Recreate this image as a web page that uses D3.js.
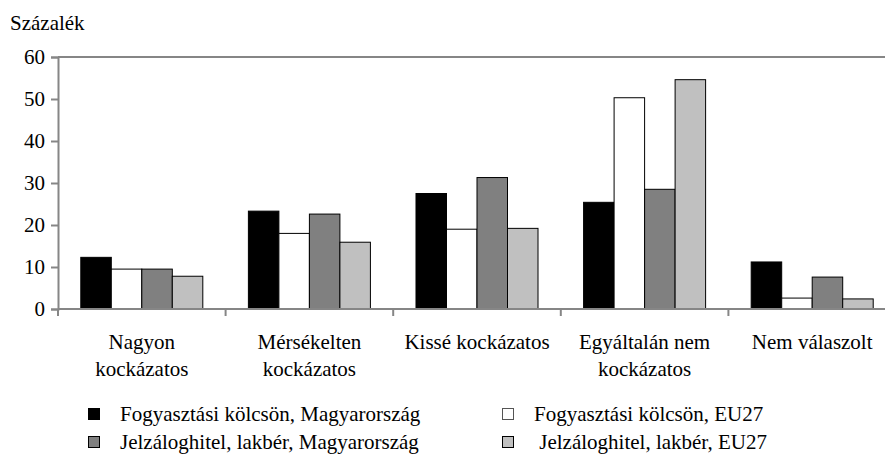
<!DOCTYPE html>
<html>
<head>
<meta charset="utf-8">
<script src="https://cdn.jsdelivr.net/npm/d3@7"></script>
</head>
<body style="margin:0">
<script>
// categories and series
const categories = ["Nagyon kockázatos", "Mérsékelten kockázatos", "Kissé kockázatos", "Egyáltalán nem kockázatos", "Nem válaszolt"];
const categoryLines = [["Nagyon", "kockázatos"], ["Mérsékelten", "kockázatos"], ["Kissé kockázatos"], ["Egyáltalán nem", "kockázatos"], ["Nem válaszolt"]];
const seriesNames = ["Fogyasztási kölcsön, Magyarország", "Fogyasztási kölcsön, EU27", "Jelzáloghitel, lakbér, Magyarország", " Jelzáloghitel, lakbér, EU27"];
const huConsumer = [12.3, 23.3, 27.5, 25.4, 11.2];
const euConsumer = [9.5, 18.0, 19.0, 50.3, 2.6];
const huMortgage = [9.5, 22.6, 31.3, 28.5, 7.6];
const euMortgage = [7.8, 15.9, 19.2, 54.6, 2.4];
const yTicks = [0, 10, 20, 30, 40, 50, 60];
const colors = ["#000000", "#ffffff", "#808080", "#c0c0c0"];

const W = 885, H = 456;
const m = {top: 57, left: 58, bottom: 309, right: 896};
const series = [huConsumer, euConsumer, huMortgage, euMortgage];
const serif = "'Liberation Serif'";

const svg = d3.select('body').append('svg')
  .attr('width', W)
  .attr('height', H)
  .style('display', 'block');

const x = d3.scaleBand()
  .domain(categories)
  .range([m.left, m.right])
  .paddingInner(0.272)
  .paddingOuter(0.136);

const xs = d3.scaleBand()
  .domain(d3.range(series.length))
  .range([0, x.bandwidth()]);

const y = d3.scaleLinear()
  .domain([0, 60])
  .range([m.bottom, m.top]);

const axisColor = '#868686';

// top border of plot area
svg.append('line')
  .attr('x1', m.left).attr('x2', m.right)
  .attr('y1', y(60)).attr('y2', y(60))
  .attr('stroke', axisColor).attr('stroke-width', 2);

// bars
series.forEach((vals, s) => {
  svg.append('g').selectAll('rect')
    .data(vals)
    .enter().append('rect')
    .attr('x', (d, i) => x(categories[i]) + xs(s))
    .attr('y', d => y(d))
    .attr('width', xs.bandwidth())
    .attr('height', d => y(0) - y(d))
    .attr('fill', colors[s])
    .attr('stroke', '#000')
    .attr('stroke-width', 1);
});

// y axis
const yAxis = svg.append('g')
  .attr('transform', `translate(${m.left},0)`)
  .call(d3.axisLeft(y).tickValues(yTicks).tickSize(7).tickPadding(6));
yAxis.select('.domain').attr('stroke', axisColor).attr('stroke-width', 2);
yAxis.selectAll('.tick line').attr('stroke', axisColor).attr('stroke-width', 2);
yAxis.selectAll('.tick text')
  .attr('fill', '#000')
  .style('font-family', serif)
  .style('font-size', '21px');

// x axis: boundaries between categories
const step = x.step();
const bounds = d3.range(categories.length + 1).map(i => m.left + i * step);
svg.append('line')
  .attr('x1', m.left).attr('x2', m.right)
  .attr('y1', y(0)).attr('y2', y(0))
  .attr('stroke', axisColor).attr('stroke-width', 2);
svg.append('g').selectAll('line')
  .data(bounds)
  .enter().append('line')
  .attr('x1', d => d).attr('x2', d => d)
  .attr('y1', y(0)).attr('y2', y(0) + 7)
  .attr('stroke', axisColor).attr('stroke-width', 2);

// category labels, one text per line
categories.forEach((c, i) => {
  svg.append('g').selectAll('text')
    .data(categoryLines[i])
    .enter().append('text')
    .attr('text-anchor', 'middle')
    .attr('x', x(c) + x.bandwidth() / 2)
    .attr('y', (t, j) => 349 + j * 27)
    .style('font-family', serif)
    .style('font-size', '21px')
    .text(t => t);
});

// y title
svg.append('text')
  .attr('x', 10).attr('y', 30)
  .style('font-family', serif)
  .style('font-size', '21px')
  .text('Százalék');

// legend
const legendPos = [[88, 414], [502, 414], [88, 442], [502, 442]];
const legend = svg.append('g').selectAll('g')
  .data(seriesNames)
  .enter().append('g')
  .attr('transform', (d, i) => `translate(${legendPos[i][0]},${legendPos[i][1]})`);
legend.append('rect')
  .attr('x', 0.5).attr('y', -5.5)
  .attr('width', 11).attr('height', 11)
  .attr('fill', (d, i) => colors[i])
  .attr('stroke', (d, i) => i === 1 ? '#555' : '#000')
  .attr('stroke-width', 1);
legend.append('text')
  .attr('x', 32).attr('y', 7)
  .style('font-family', serif)
  .style('font-size', '21px')
  .style('white-space', 'pre')
  .text(d => d);
</script>
</body>
</html>
